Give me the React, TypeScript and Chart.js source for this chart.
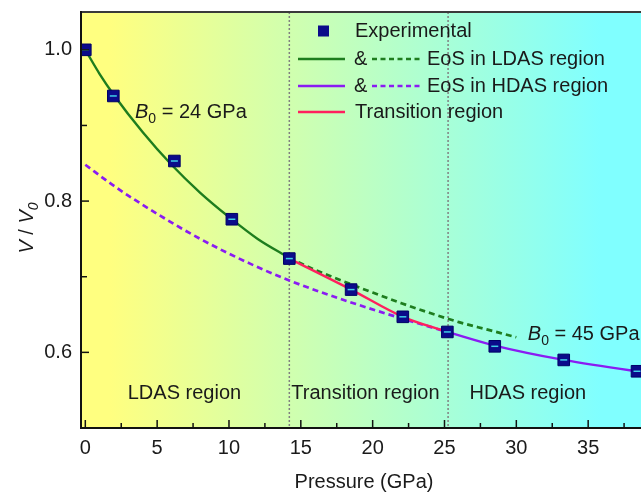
import React, { useEffect, useRef } from "react";
import { Chart, registerables } from "chart.js";
Chart.register(...registerables);

const FONT = "'Liberation Sans', Arial, Helvetica, sans-serif";
const INK = "#1a1a1a";
const GREEN = "#1e7d1e";
const PURPLE = "#8a1cf2";
const RED = "#ff1f5e";
const NAVY = "#0b0b8a";

// Experimental points
const expPressure = [0, 1.95, 6.2, 10.2, 14.2, 18.5, 22.1, 25.2, 28.5, 33.3, 38.4];
const expVolume = [1.0, 0.939, 0.853, 0.776, 0.724, 0.683, 0.647, 0.627, 0.608, 0.59, 0.575];

// EoS in LDAS region (solid part and dashed extension)
const ldasFitP = [0, 1, 2, 4, 6, 8, 10, 12, 14.2];
const ldasFitV = [1.0, 0.968, 0.94, 0.891, 0.848, 0.811, 0.779, 0.75, 0.725];
const ldasExtP = [14.2, 16, 18.5, 20, 22, 24, 26, 28, 30];
const ldasExtV = [0.725, 0.709, 0.69, 0.679, 0.665, 0.652, 0.64, 0.63, 0.62];

// EoS in HDAS region (dashed extension and solid part)
const hdasExtP = [0, 2, 4.5, 8, 11.5, 14.2, 18.5, 22, 25.2];
const hdasExtV = [0.848, 0.82, 0.789, 0.75, 0.717, 0.695, 0.666, 0.645, 0.627];
const hdasFitP = [25.2, 28.5, 33.3, 38.4, 40];
const hdasFitV = [0.627, 0.609, 0.59, 0.575, 0.571];

// Transition region
const transP = [14.2, 18.5, 22.1, 25.2];
const transV = [0.724, 0.683, 0.647, 0.627];

// Axis ticks
const xTickLabels = [0, 5, 10, 15, 20, 25, 30, 35];
const xMinorTicks = [2.5, 7.5, 12.5, 17.5, 22.5, 27.5, 32.5, 37.5];
const yTickLabels = [0.6, 0.8, 1.0];
const yMinorTicks = [0.7, 0.9];

// Regions
const regionBoundaries = [14.2, 25.25];
const regionNames = ["LDAS region", "Transition region", "HDAS region"];
const regionNameCenters = [6.9, 19.5, 30.8];
const regionNameLevel = 0.538;

const b0Texts = [" = 24 GPa", " = 45 GPa"];
const b0Anchors = [
  { x: 3.46, y: 0.9105 },
  { x: 30.8, y: 0.616 },
];

const pts = (xs: number[], ys: number[]) => xs.map((x, i) => ({ x, y: ys[i] }));

function drawB0(ctx: CanvasRenderingContext2D, x: number, y: number, rest: string) {
  ctx.textAlign = "left";
  ctx.textBaseline = "alphabetic";
  ctx.font = `italic 20px ${FONT}`;
  ctx.fillText("B", x, y);
  let w = ctx.measureText("B").width;
  ctx.font = `14px ${FONT}`;
  ctx.fillText("0", x + w, y + 5);
  w += ctx.measureText("0").width;
  ctx.font = `20px ${FONT}`;
  ctx.fillText(rest, x + w, y);
}

const decorPlugin = {
  id: "decor",
  beforeDraw(chart: any) {
    const { ctx, chartArea: a } = chart;
    const g = ctx.createLinearGradient(110, 0, 600, 0);
    g.addColorStop(0, "#ffff80");
    g.addColorStop(1, "#80ffff");
    ctx.save();
    ctx.fillStyle = g;
    ctx.fillRect(a.left, a.top, a.right - a.left, a.bottom - a.top);
    ctx.restore();
  },
  beforeDatasetsDraw(chart: any) {
    const { ctx, chartArea: a, scales } = chart;
    ctx.save();
    ctx.strokeStyle = "#808080";
    ctx.lineWidth = 1.5;
    ctx.setLineDash([2, 2]);
    regionBoundaries.forEach((b) => {
      const x = scales.x.getPixelForValue(b);
      ctx.beginPath();
      ctx.moveTo(x, a.top);
      ctx.lineTo(x, a.bottom);
      ctx.stroke();
    });
    ctx.restore();
  },
  afterDatasetsDraw(chart: any) {
    const { ctx, scales } = chart;
    ctx.save();
    ctx.fillStyle = INK;
    ctx.font = `20px ${FONT}`;
    ctx.textAlign = "center";
    ctx.textBaseline = "alphabetic";
    regionNames.forEach((n, i) => {
      ctx.fillText(n, scales.x.getPixelForValue(regionNameCenters[i]), scales.y.getPixelForValue(regionNameLevel));
    });
    b0Anchors.forEach((p, i) => {
      drawB0(ctx, scales.x.getPixelForValue(p.x), scales.y.getPixelForValue(p.y), b0Texts[i]);
    });
    ctx.restore();
  },
  afterDraw(chart: any) {
    const { ctx, chartArea: a, scales } = chart;
    ctx.save();
    // frame
    ctx.lineWidth = 2;
    ctx.strokeStyle = "#3a3a3a";
    ctx.beginPath();
    ctx.moveTo(a.left, a.top);
    ctx.lineTo(a.right, a.top);
    ctx.stroke();
    ctx.strokeStyle = "#111";
    ctx.beginPath();
    ctx.moveTo(a.left, a.top - 1);
    ctx.lineTo(a.left, a.bottom);
    ctx.lineTo(a.right, a.bottom);
    ctx.stroke();
    // inward ticks
    ctx.lineWidth = 1.5;
    const xt = (v: number, len: number) => {
      const x = scales.x.getPixelForValue(v);
      ctx.beginPath();
      ctx.moveTo(x, a.bottom);
      ctx.lineTo(x, a.bottom - len);
      ctx.stroke();
    };
    xTickLabels.forEach((v) => xt(v, 8));
    xMinorTicks.forEach((v) => xt(v, 5));
    const yt = (v: number, len: number) => {
      const y = scales.y.getPixelForValue(v);
      ctx.beginPath();
      ctx.moveTo(a.left, y);
      ctx.lineTo(a.left + len, y);
      ctx.stroke();
    };
    yTickLabels.forEach((v) => yt(v, 8));
    yMinorTicks.forEach((v) => yt(v, 6));

    // axis titles
    ctx.fillStyle = INK;
    ctx.textBaseline = "alphabetic";
    ctx.textAlign = "center";
    ctx.font = `20px ${FONT}`;
    ctx.fillText("Pressure (GPa)", 364, 488);

    ctx.save();
    ctx.translate(33, 228);
    ctx.rotate(-Math.PI / 2);
    ctx.textAlign = "left";
    const parts: [string, string, number][] = [
      ["V", `italic 20px ${FONT}`, 0],
      [" / ", `20px ${FONT}`, 0],
      ["V", `italic 20px ${FONT}`, 0],
      ["0", `italic 14px ${FONT}`, 5],
    ];
    let total = 0;
    parts.forEach(([t, f]) => {
      ctx.font = f;
      total += ctx.measureText(t).width;
    });
    let cx = -total / 2;
    parts.forEach(([t, f, dy]) => {
      ctx.font = f;
      ctx.fillText(t, cx, dy);
      cx += ctx.measureText(t).width;
    });
    ctx.restore();

    // legend
    ctx.font = `20px ${FONT}`;
    ctx.textAlign = "left";
    ctx.textBaseline = "middle";
    const rows = [31, 59, 86, 112];
    ctx.fillStyle = NAVY;
    ctx.fillRect(318, rows[0] - 5.5, 11, 11);
    ctx.fillStyle = INK;
    ctx.fillText("Experimental", 355, rows[0]);
    const seg = (x1: number, x2: number, y: number, color: string, dash: number[]) => {
      ctx.save();
      ctx.strokeStyle = color;
      ctx.lineWidth = 2.5;
      ctx.setLineDash(dash);
      ctx.beginPath();
      ctx.moveTo(x1, y);
      ctx.lineTo(x2, y);
      ctx.stroke();
      ctx.restore();
    };
    seg(298, 345, rows[1], GREEN, []);
    ctx.fillText("&", 354, rows[1]);
    seg(372, 423, rows[1], GREEN, [5, 3.5]);
    ctx.fillText("EoS in LDAS region", 427, rows[1]);
    seg(298, 345, rows[2], PURPLE, []);
    ctx.fillText("&", 354, rows[2]);
    seg(372, 423, rows[2], PURPLE, [5, 3.5]);
    ctx.fillText("EoS in HDAS region", 427, rows[2]);
    seg(298, 345, rows[3], RED, []);
    ctx.fillText("Transition region", 355, rows[3]);
    ctx.restore();
  },
};

export default function App() {
  const ref = useRef<HTMLCanvasElement>(null);
  useEffect(() => {
    const canvas = ref.current!;
    const lineDs = (label: string, data: any[], color: string, dash: number[] = []) => ({
      label,
      data,
      borderColor: color,
      borderWidth: dash.length ? 2.7 : 2.4,
      borderDash: dash,
      pointRadius: 0,
      showLine: true,
      fill: false,
      cubicInterpolationMode: "monotone" as const,
    });
    const exp = pts(expPressure, expVolume);
    const chart = new Chart(canvas, {
      type: "line",
      data: {
        datasets: [
          {
            label: "errbar",
            data: exp,
            showLine: false,
            pointStyle: "line",
            pointRadius: 3.5,
            pointBorderColor: "#3fd0e8",
            pointBorderWidth: 1.5,
          } as any,
          {
            label: "Experimental",
            data: exp,
            showLine: false,
            pointStyle: "rect",
            pointRadius: 8.2,
            pointBackgroundColor: NAVY,
            pointBorderColor: "#000066",
            pointBorderWidth: 1,
          },
          lineDs("Transition region", pts(transP, transV), RED),
          lineDs("EoS LDAS", pts(ldasFitP, ldasFitV), GREEN),
          lineDs("EoS HDAS", pts(hdasFitP, hdasFitV), PURPLE),
          lineDs("EoS LDAS ext", pts(ldasExtP, ldasExtV), GREEN, [6, 4]),
          lineDs("EoS HDAS ext", pts(hdasExtP, hdasExtV), PURPLE, [6, 4]),
        ],
      },
      options: {
        responsive: false,
        devicePixelRatio: 1,
        animation: false,
        layout: { padding: { left: 0, top: 12, right: 20, bottom: 0 } },
        plugins: { legend: { display: false }, tooltip: { enabled: false } },
        scales: {
          x: {
            type: "linear",
            min: -0.3,
            max: 40,
            afterBuildTicks: (s: any) => {
              s.ticks = xTickLabels.map((v) => ({ value: v }));
            },
            afterFit: (s: any) => {
              s.height = 64;
              s.paddingLeft = 0;
              s.paddingRight = 0;
            },
            grid: { display: false, drawTicks: false },
            border: { display: false },
            ticks: {
              autoSkip: false,
              maxRotation: 0,
              padding: 8,
              color: INK,
              font: { family: FONT, size: 20 },
              callback: (v: any) => String(v),
            },
          },
          y: {
            type: "linear",
            min: 0.5,
            max: 1.05,
            afterBuildTicks: (s: any) => {
              s.ticks = yTickLabels.map((v) => ({ value: v }));
            },
            afterFit: (s: any) => {
              s.width = 81;
              s.paddingTop = 0;
              s.paddingBottom = 0;
            },
            grid: { display: false, drawTicks: false },
            border: { display: false },
            ticks: {
              padding: 9,
              color: INK,
              font: { family: FONT, size: 20 },
              callback: (v: any) => Number(v).toFixed(1),
            },
          },
        },
      },
      plugins: [decorPlugin],
    });
    return () => chart.destroy();
  }, []);
  return (
    <div
      style={{
        position: "absolute",
        left: 0,
        top: 0,
        width: 641,
        height: 492,
        overflow: "hidden",
        background: "#fff",
      }}
    >
      <canvas ref={ref} width={680} height={492} style={{ display: "block", width: 680, height: 492 }} />
    </div>
  );
}
